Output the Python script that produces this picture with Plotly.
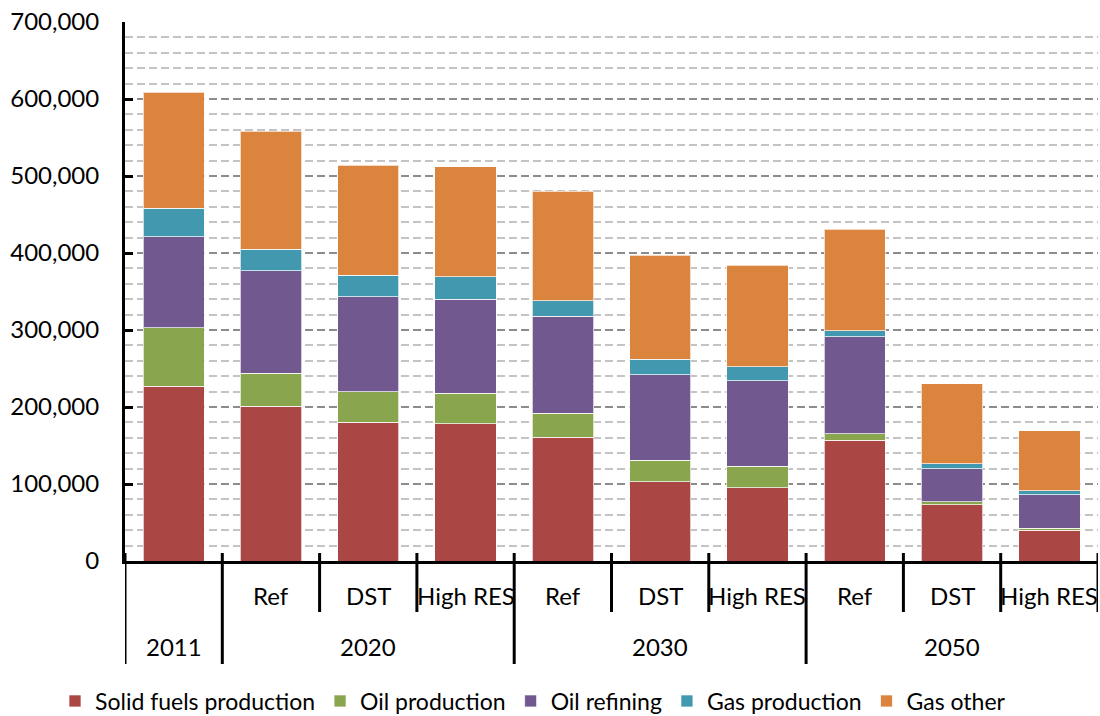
import plotly.graph_objects as go

# categories: outer group (year) and inner label (scenario)
years = ["2011", "2020", "2020", "2020", "2030", "2030", "2030", "2050", "2050", "2050"]
scenarios = ["", "Ref", "DST", "High RES", "Ref", "DST", "High RES", "Ref", "DST", "High RES"]

# stacked series values
solid_fuels = [227000, 201000, 180000, 178000, 161000, 103000, 95000, 157000, 73000, 40000]
oil_production = [76000, 43000, 40000, 40000, 31000, 28000, 28000, 8000, 4000, 2500]
oil_refining = [118000, 133000, 123000, 122000, 126000, 111000, 111000, 126000, 43000, 43500]
gas_production = [37000, 28000, 28000, 29000, 20000, 20000, 18000, 8000, 6000, 5000]
gas_other = [151000, 153000, 143000, 143000, 142000, 135000, 132000, 132000, 104000, 78000]

series = [
    ("Solid fuels production", solid_fuels, "#AA4643"),
    ("Oil production", oil_production, "#89A54E"),
    ("Oil refining", oil_refining, "#71588F"),
    ("Gas production", gas_production, "#4198AF"),
    ("Gas other", gas_other, "#DB843D"),
]

FONT = "Lato"
n = len(years)
x = list(range(n))

fig = go.Figure()
for name, vals, col in series:
    fig.add_trace(go.Bar(
        x=x, y=vals, name=name,
        marker=dict(color=col, line=dict(color="rgba(255,255,255,0.7)", width=1)),
    ))

# plot area geometry (pixels) used to convert label offsets to paper coords
plot_h = 716 - 22 - 155

shapes = []
for b in range(n + 1):
    left = years[b - 1] if b > 0 else None
    right = years[b] if b < n else None
    outer = (left != right) and right is not None
    bottom = 664 if outer else 612
    shapes.append(dict(
        type="line", xref="x", yref="paper",
        x0=b - 0.5, x1=b - 0.5,
        y0=8 / plot_h, y1=-(bottom - 561) / plot_h,
        line=dict(color="black", width=3),
    ))

annotations = []
for i, s in enumerate(scenarios):
    if s:
        annotations.append(dict(
            x=i, y=-(595 - 561) / plot_h, xref="x", yref="paper", yanchor="middle",
            text=s, showarrow=False, font=dict(family=FONT, size=24, color="black"),
        ))
groups = []
for i, yr in enumerate(years):
    if groups and groups[-1][0] == yr:
        groups[-1][1].append(i)
    else:
        groups.append((yr, [i]))
for yr, idx in groups:
    annotations.append(dict(
        x=sum(idx) / len(idx), y=-(646 - 561) / plot_h, xref="x", yref="paper",
        yanchor="middle",
        text=yr, showarrow=False, font=dict(family=FONT, size=24, color="black"),
    ))

fig.update_layout(
    barmode="stack",
    bargap=0.37,
    width=1100, height=716,
    margin=dict(l=125, r=2, t=22, b=155, autoexpand=False),
    plot_bgcolor="white", paper_bgcolor="white",
    font=dict(family=FONT, size=24, color="black"),
    shapes=shapes,
    annotations=annotations,
    legend=dict(
        orientation="h", xref="container", x=55 / 1100, xanchor="left",
        yref="container", y=1 - 701 / 716, yanchor="middle",
        font=dict(family=FONT, size=23), traceorder="normal",
        itemwidth=30,
    ),
    xaxis=dict(
        range=[-0.5, n - 0.5], showticklabels=False, showgrid=False, automargin=False,
        showline=True, linecolor="black", linewidth=3, zeroline=False,
    ),
    yaxis=dict(
        range=[0, 700000], dtick=100000, tickformat=",d", automargin=False,
        showline=True, linecolor="black", linewidth=3,
        ticks="inside", ticklen=8, tickwidth=3, tickcolor="black",
        ticklabelstandoff=18,
        showgrid=True, gridcolor="#8c8c8c", gridwidth=1.5, griddash="8px,4px",
        minor=dict(dtick=20000, showgrid=True, gridcolor="#c4c4c4", gridwidth=1.5,
                   griddash="8px,4px", ticks=""),
        zeroline=False,
    ),
)

fig.write_html("out.html", config={"displayModeBar": False},
               post_script="document.body.style.margin='0';")
